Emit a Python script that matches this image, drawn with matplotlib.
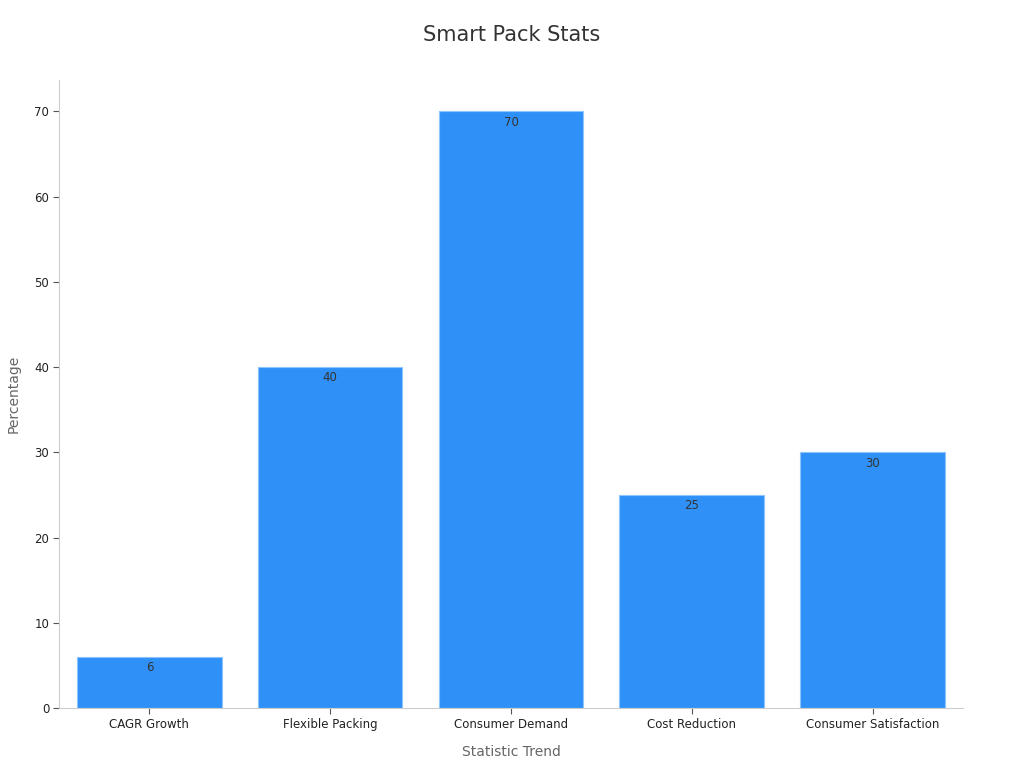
import matplotlib
matplotlib.use("Agg")
from matplotlib import pyplot as plt

categories = ["CAGR Growth", "Flexible Packing", "Consumer Demand",
              "Cost Reduction", "Consumer Satisfaction"]
values = [6, 40, 70, 25, 30]

fig = plt.figure(figsize=(10.24, 7.68), dpi=100)
ax = fig.add_axes([0.0576, 0.078, 0.8828, 0.818])

bars = ax.bar(range(len(categories)), values, width=0.8,
              color="#2f91f8", edgecolor="#8cc4fb", linewidth=0.8)

for i, v in enumerate(values):
    ax.annotate(str(v), xy=(i, v), xytext=(0, -3), textcoords="offset points",
                ha="center", va="top", fontsize=8.5, color="#333333")

ax.set_xlim(-0.5, len(categories) - 0.5)
ax.set_ylim(0, 73.7)
ax.set_xticks(range(len(categories)))
ax.set_xticklabels(categories)
ax.set_yticks(range(0, 71, 10))
ax.tick_params(axis="both", labelsize=8.5, length=4, width=0.8,
               colors="#555555", labelcolor="#222222", pad=3)

for side in ["top", "right"]:
    ax.spines[side].set_visible(False)
for side in ["left", "bottom"]:
    ax.spines[side].set_color("#cccccc")
    ax.spines[side].set_linewidth(0.8)

ax.set_xlabel("Statistic Trend", fontsize=10, color="#666666", labelpad=10)
ax.set_ylabel("Percentage", fontsize=10, color="#666666", labelpad=10)
fig.suptitle("Smart Pack Stats", fontsize=15, color="#333333", y=0.968)

fig.savefig("out.png", dpi=100)
